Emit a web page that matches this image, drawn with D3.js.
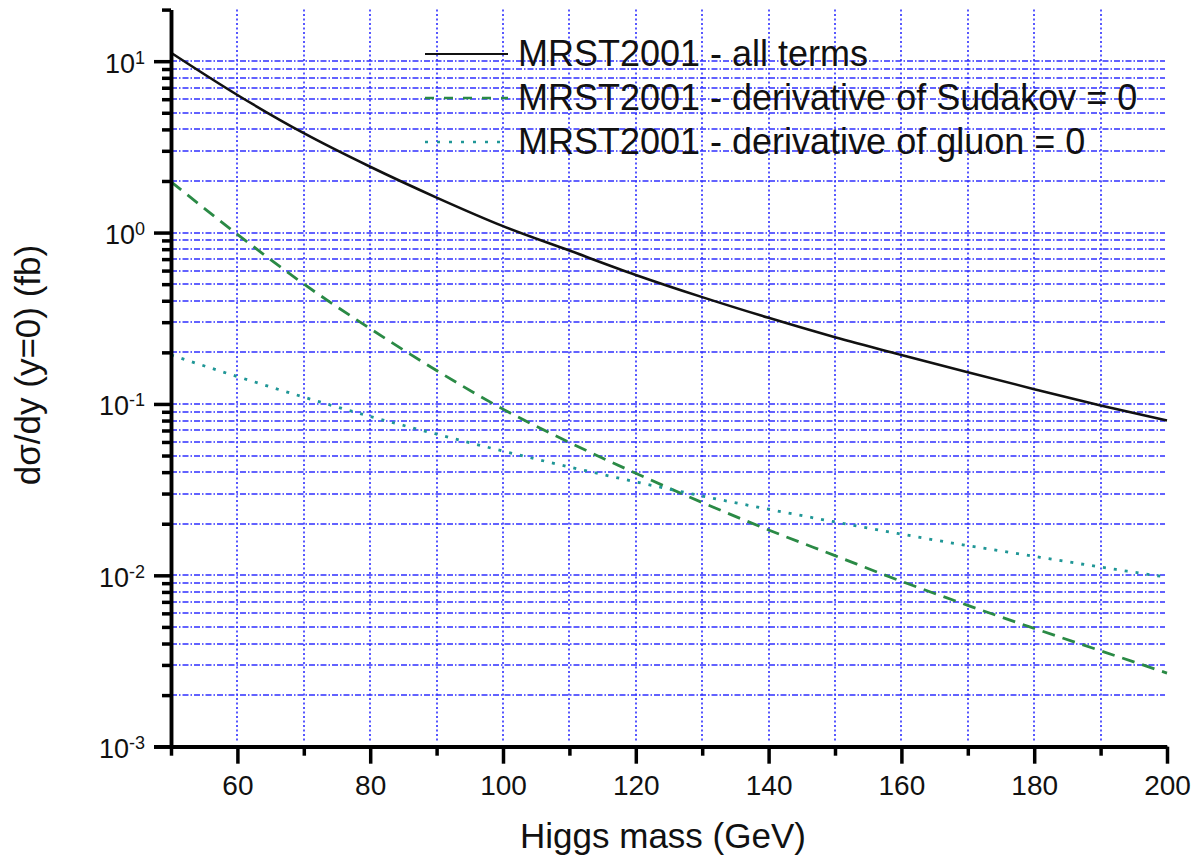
<html>
<head>
<script src="https://d3js.org/d3.v7.min.js"></script>
<style>
body { margin:0; background:#fff; }
text { font-family: "Liberation Sans", Arial, sans-serif; fill:#111; }
</style>
</head>
<body>
<div id="chart"></div>
<script>
	// Higgs mass (GeV)
	var masses = [50, 60, 70, 80, 90, 100, 110, 120, 130, 140, 150, 160, 170, 180, 190, 200];
	// d sigma / dy at y=0 (fb)
	var allTerms = [11.2, 6.35, 3.8, 2.42, 1.60, 1.09, 0.785, 0.566, 0.42, 0.318, 0.245, 0.193, 0.153, 0.122, 0.098, 0.080];
	var noSudakovDeriv = [1.98, 0.977, 0.501, 0.275, 0.1567, 0.0933, 0.0596, 0.0394, 0.0266, 0.0184, 0.01303, 0.00923, 0.00668, 0.0049, 0.00363, 0.00269];
	var noGluonDeriv = [0.193, 0.1445, 0.1096, 0.0845, 0.0667, 0.0531, 0.0429, 0.0351, 0.0290, 0.0243, 0.0205, 0.0174, 0.0149, 0.0129, 0.01117, 0.00975];
	var seriesNames = ["MRST2001 - all terms", "MRST2001 - derivative of Sudakov = 0", "MRST2001 - derivative of gluon = 0"];

	var xMajor = [60, 80, 100, 120, 140, 160, 180, 200];
	var xMinor = [50, 70, 90, 110, 130, 150, 170, 190];
	var xGrid = [60, 70, 80, 90, 100, 110, 120, 130, 140, 150, 160, 170, 180, 190];
	var yMajor = [1e-3, 1e-2, 1e-1, 1e0, 1e1];
	var yExponents = ["-3", "-2", "-1", "0", "1"];

	var width = 1195, height = 860;
	var x0 = 171, x1 = 1167, yTop = 9.6, yBot = 746.7;

	var x = d3.scaleLinear().domain([50, 200]).range([x0, x1]);
	var y = d3.scaleLog().domain([1e-3, 20]).range([yBot, yTop]);

	// minor decade values 2..9 x 10^k
	var yMinor = [];
	yMajor.forEach(function(d){
		for (var k = 2; k <= 9; k++) {
			var v = d * k;
			if (v <= 20.0001) yMinor.push(v);
		}
	});
	var yGrid = yMinor.concat(yMajor).filter(function(v){ return v > 1.0001e-3 && v < 19; });

	var svg = d3.select("#chart").append("svg")
		.attr("width", width)
		.attr("height", height);

	//grid first so curves sit on top
	var grid = svg.append("g").attr("class", "grid");
	grid.selectAll("line.h")
		.data(yGrid)
		.enter().append("line")
		.attr("class", "h")
		.attr("x1", x0).attr("x2", x1 - 2)
		.attr("y1", function(d){ return Math.round(y(d)); })
		.attr("y2", function(d){ return Math.round(y(d)); })
		.attr("stroke", "#2f2fff")
		.attr("stroke-width", 1.6)
		.attr("stroke-dasharray", "6,2,1.5,2");
	grid.selectAll("line.v")
		.data(xGrid)
		.enter().append("line")
		.attr("class", "v")
		.attr("x1", function(d){ return Math.round(x(d)); })
		.attr("x2", function(d){ return Math.round(x(d)); })
		.attr("y1", yTop).attr("y2", yBot - 5)
		.attr("stroke", "#2f2fff")
		.attr("stroke-width", 1.6)
		.attr("stroke-dasharray", "2,2.5");

	var styles = [
		{color: "#111", dash: null, width: 2.6},
		{color: "#2a8a45", dash: "13,8", width: 2.8},
		{color: "#1f9696", dash: "3,8", width: 2.8}
	];
	var allSeries = [allTerms, noSudakovDeriv, noGluonDeriv];

	var line = d3.line()
		.x(function(d){ return x(d[0]); })
		.y(function(d){ return y(d[1]); })
		.curve(d3.curveMonotoneX);

	allSeries.forEach(function(vals, i){
		var pts = masses.map(function(m, j){ return [m, vals[j]]; });
		svg.append("path")
			.datum(pts)
			.attr("d", line)
			.attr("fill", "none")
			.attr("stroke", styles[i].color)
			.attr("stroke-width", styles[i].width)
			.attr("stroke-dasharray", styles[i].dash);
	});

	// x axis
	var xMinorAxis = svg.append("g")
		.attr("transform", "translate(0," + yBot + ")")
		.call(d3.axisBottom(x).tickValues(xMinor).tickSize(9).tickSizeOuter(0).tickFormat(""));
	var xMajorAxis = svg.append("g")
		.attr("transform", "translate(0," + yBot + ")")
		.call(d3.axisBottom(x).tickValues(xMajor).tickSize(17).tickSizeOuter(0).tickPadding(11));
	xMajorAxis.selectAll("text").style("font-size", "28px").attr("fill", "#111");

	// y axis (minor ticks run up to 20 at the top)
	var yMinorAxis = svg.append("g")
		.attr("transform", "translate(" + x0 + ",0)")
		.call(d3.axisLeft(y).tickValues(yMinor).tickSize(9).tickSizeOuter(0).tickFormat(""));
	var yMajorAxis = svg.append("g")
		.attr("transform", "translate(" + x0 + ",0)")
		.call(d3.axisLeft(y).tickValues(yMajor).tickSize(17).tickSizeOuter(0).tickPadding(9));
	yMajorAxis.selectAll("text")
		.style("font-size", "27px")
		.attr("dy", "0.4em")
		.each(function(d, i){
			var t = d3.select(this);
			t.text("");
			t.append("tspan").text("10");
			t.append("tspan").text(yExponents[i])
				.attr("dy", -9)
				.style("font-size", "18px");
		});

	svg.selectAll(".domain").attr("stroke", "#000").attr("stroke-width", 3.5);
	svg.selectAll(".tick line").attr("stroke", "#000").attr("stroke-width", 3.5);
	// extend the x axis line under the 10^-3 tick
	xMinorAxis.select(".domain").attr("d", "M" + (x0 - 17) + ",0H" + x1);

	// axis titles
	svg.append("text")
		.attr("x", 663)
		.attr("y", 848)
		.attr("text-anchor", "middle")
		.style("font-size", "35px")
		.text("Higgs mass (GeV)");

	svg.append("text")
		.attr("transform", "translate(40,365) rotate(-90)")
		.attr("text-anchor", "middle")
		.style("font-size", "35px")
		.text("d\u03c3/dy (y=0) (fb)");

	// legend
	var legend = svg.append("g");
	seriesNames.forEach(function(name, i){
		var ly = 54 + i * 44;
		legend.append("line")
			.attr("x1", 425).attr("x2", 508)
			.attr("y1", ly).attr("y2", ly)
			.attr("stroke", styles[i].color)
			.attr("stroke-width", i == 0 ? 1.8 : 2.5)
			.attr("stroke-dasharray", i == 1 ? "9,10" : (i == 2 ? "3,9" : null));
		legend.append("text")
			.attr("x", 518)
			.attr("y", ly + 12)
			.style("font-size", "36px")
			.text(name);
	});
</script>
</body>
</html>
